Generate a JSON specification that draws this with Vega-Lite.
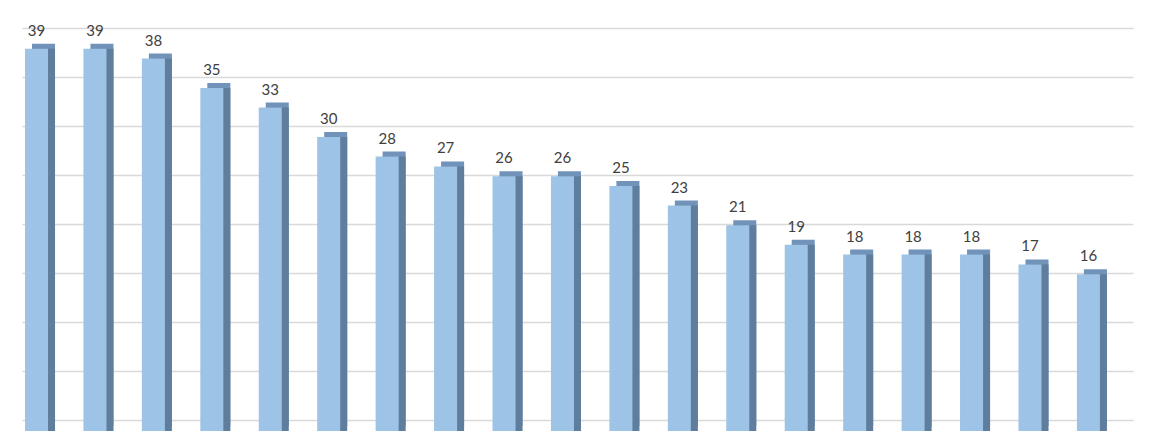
{
  "$schema": "https://vega.github.io/schema/vega-lite/v6.json",
  "width": 1111,
  "height": 392,
  "autosize": "none",
  "padding": {"left": 22, "top": 28, "right": 18, "bottom": 21},
  "background": "white",
  "config": {"view": {"stroke": null}},
  "data": {
    "values": [
      {"rank": 1, "value": 39},
      {"rank": 2, "value": 39},
      {"rank": 3, "value": 38},
      {"rank": 4, "value": 35},
      {"rank": 5, "value": 33},
      {"rank": 6, "value": 30},
      {"rank": 7, "value": 28},
      {"rank": 8, "value": 27},
      {"rank": 9, "value": 26},
      {"rank": 10, "value": 26},
      {"rank": 11, "value": 25},
      {"rank": 12, "value": 23},
      {"rank": 13, "value": 21},
      {"rank": 14, "value": 19},
      {"rank": 15, "value": 18},
      {"rank": 16, "value": 18},
      {"rank": 17, "value": 18},
      {"rank": 18, "value": 17},
      {"rank": 19, "value": 16}
    ]
  },
  "encoding": {
    "x": {
      "field": "rank",
      "type": "ordinal",
      "axis": null,
      "scale": {"paddingInner": 0.606, "paddingOuter": 0.3085, "align": 0.0832}
    },
    "y": {
      "field": "value",
      "type": "quantitative",
      "scale": {"domain": [0, 40], "nice": false},
      "axis": {
        "values": [0, 5, 10, 15, 20, 25, 30, 35, 40],
        "labels": false,
        "ticks": false,
        "domain": false,
        "title": null,
        "grid": true,
        "gridColor": "#d9d9d9",
        "gridWidth": 1.3
      }
    }
  },
  "layer": [
    {"mark": {"type": "bar", "color": "#7193ba", "xOffset": 7, "x2Offset": 7, "yOffset": 6, "y2Offset": 6}},
    {"mark": {"type": "bar", "color": "#5f7d9c", "xOffset": 7, "x2Offset": 7, "yOffset": 11, "y2Offset": 6}},
    {"mark": {"type": "bar", "color": "#9dc3e6", "yOffset": 11, "y2Offset": 11}},
    {
      "mark": {"type": "text", "font": "Lato", "fontSize": 15, "color": "#404040", "baseline": "alphabetic", "dy": -2},
      "encoding": {"text": {"field": "value", "type": "quantitative"}}
    }
  ]
}
